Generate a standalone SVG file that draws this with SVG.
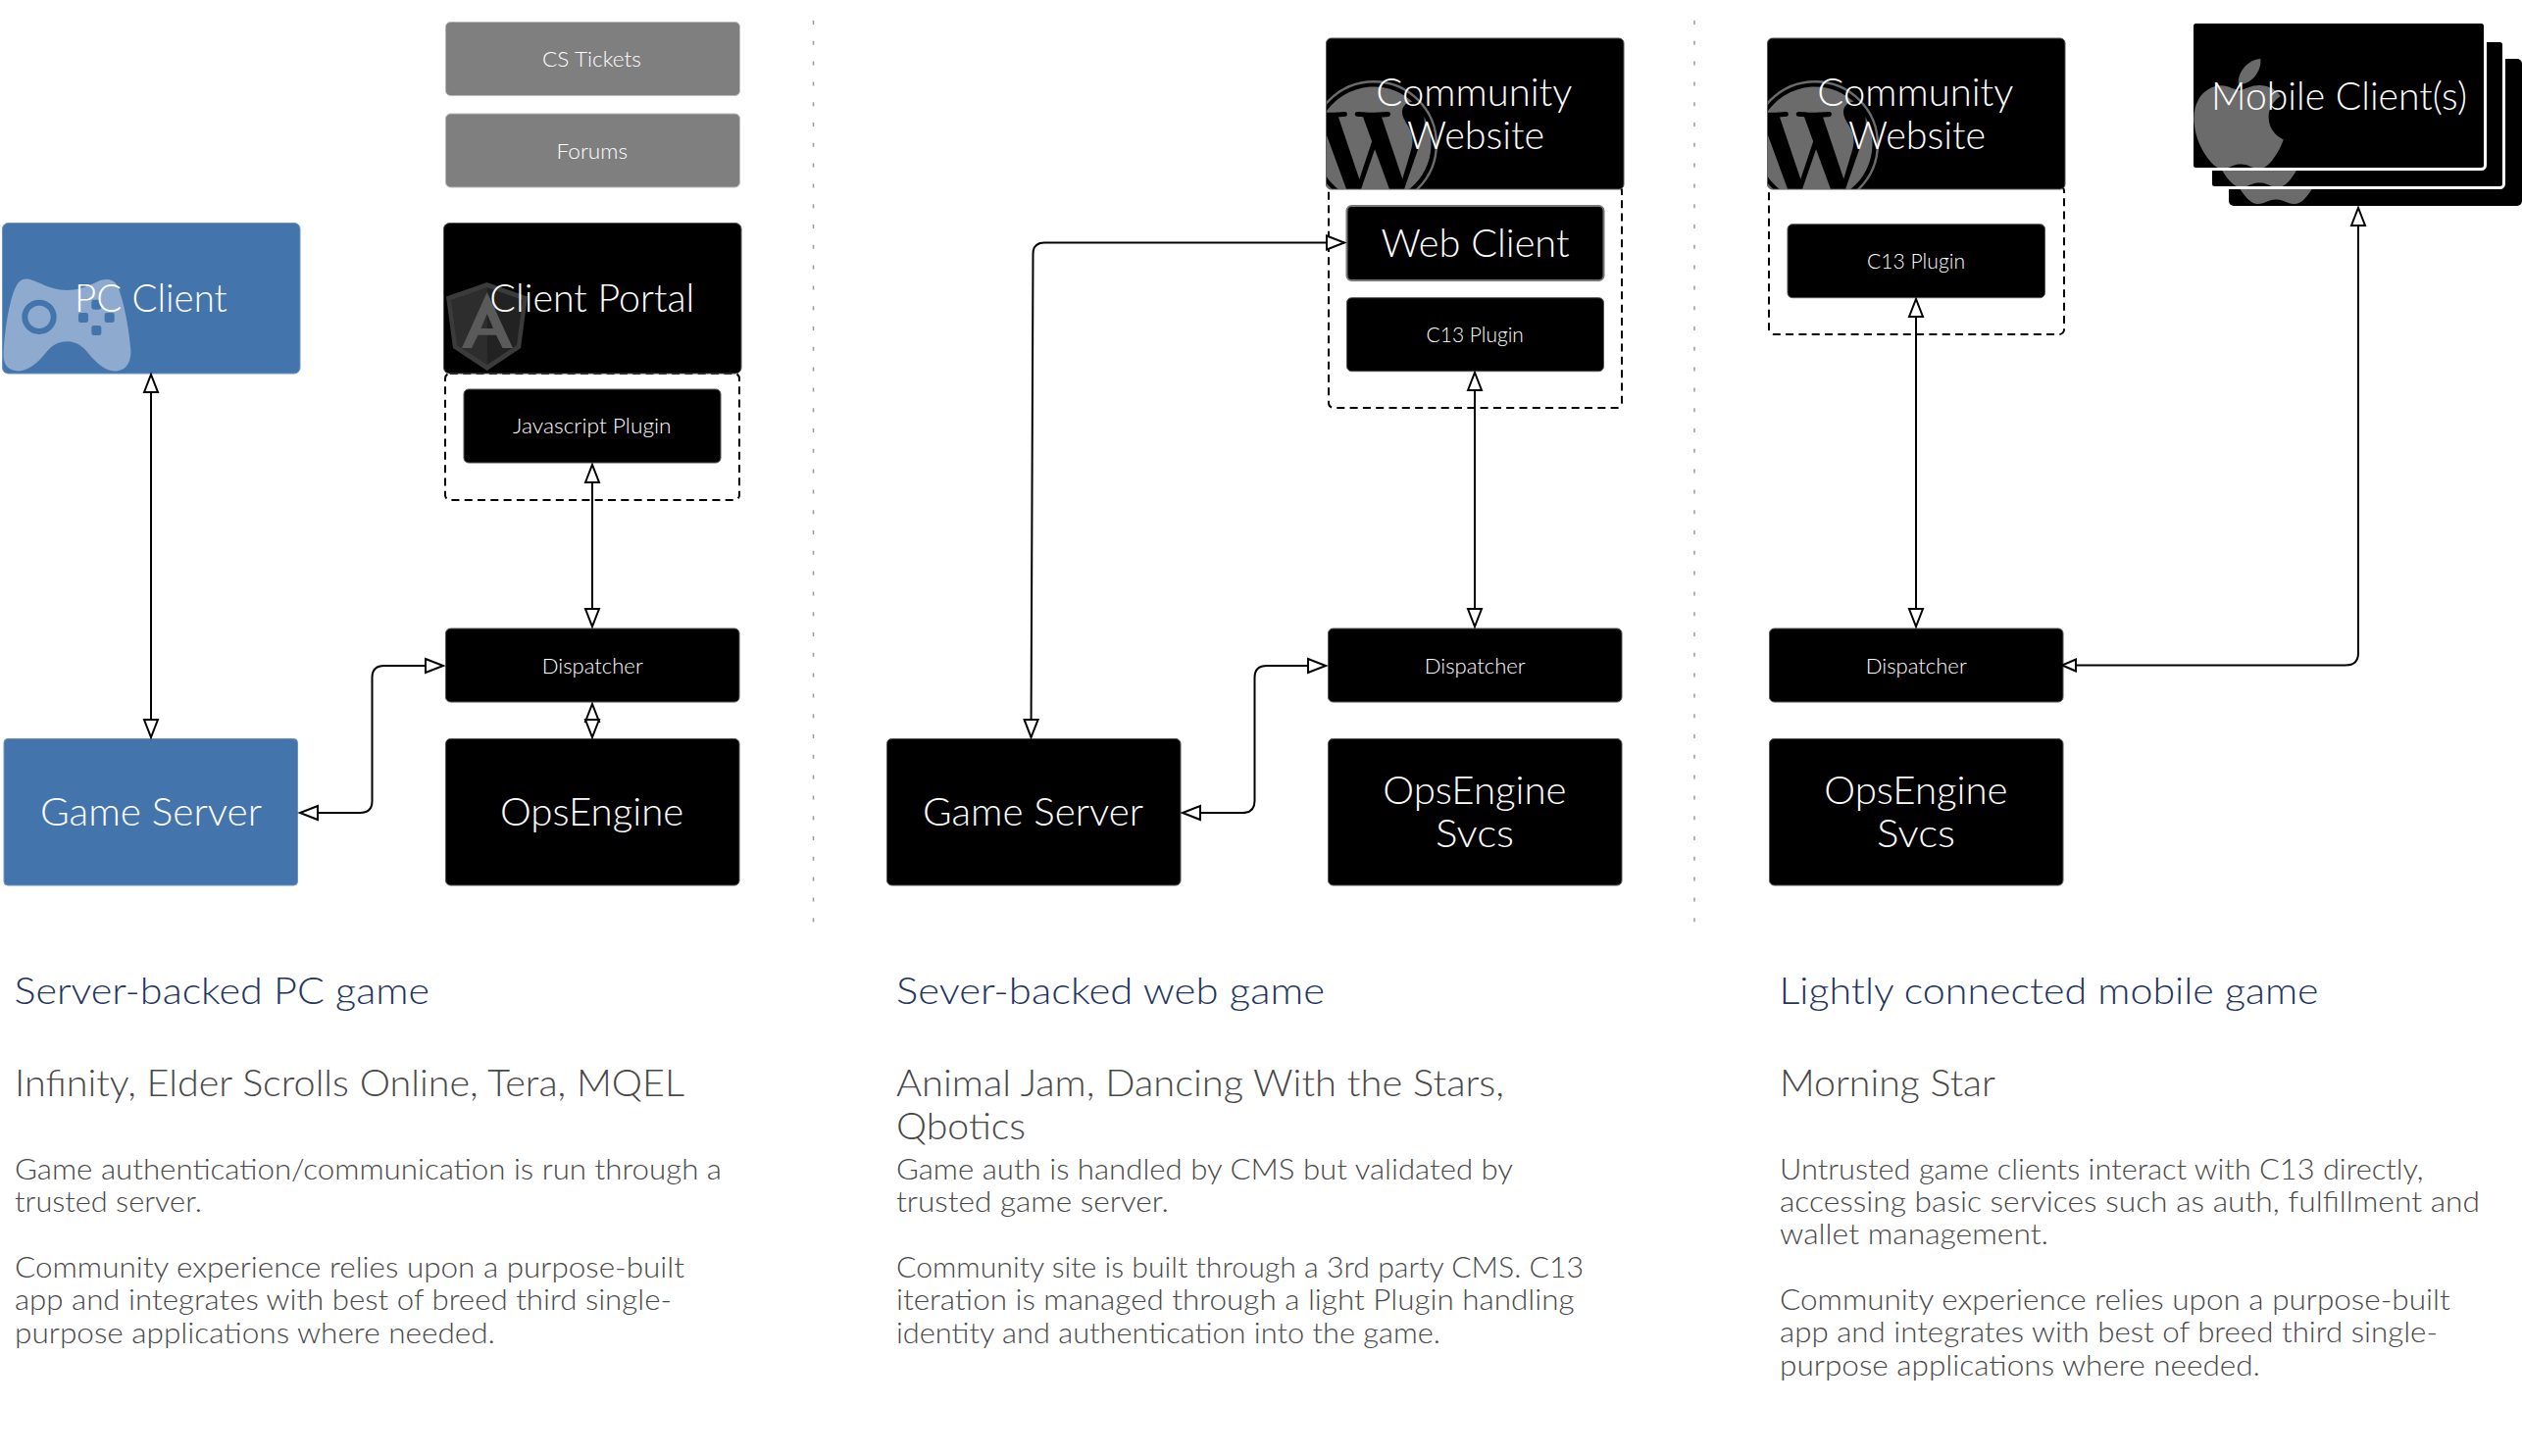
<svg xmlns="http://www.w3.org/2000/svg" width="2572" height="1485" viewBox="0 0 2572 1485">
<style>
text{font-family:"Lato","Liberation Sans",sans-serif;font-weight:300}
.blk{fill:#000;stroke:#555;stroke-width:1}
.blu{fill:#4474ac;stroke:#6c93c2;stroke-width:1}
.gry{fill:#7f7f7f;stroke:#bbb;stroke-width:1}
.dash{fill:none;stroke:#000;stroke-width:2;stroke-dasharray:8 5.3}
.sep{stroke:#999;stroke-width:1.5;stroke-dasharray:4 16.8;fill:none}
.con{fill:none;stroke:#000;stroke-width:2;marker-start:url(#head);marker-end:url(#head)}
.b{fill:#fff;font-size:39.5px}
.s{fill:#fff;font-size:21px}
.t{fill:#1f3560;font-size:37px}
.h{fill:#484848;font-size:37px}
.p{fill:#484848;font-size:29px}
.mark{fill:#6b6b6b}
</style>
<defs>
<marker id="head" markerUnits="userSpaceOnUse" markerWidth="22" markerHeight="18" refX="19" refY="8" orient="auto-start-reverse" viewBox="0 0 22 16"><path d="M1 1L19 8L1 15Z" fill="#fff" stroke="#000" stroke-width="2"/></marker>
<marker id="headS" markerUnits="userSpaceOnUse" markerWidth="18" markerHeight="16" refX="15" refY="7" orient="auto-start-reverse" viewBox="0 0 18 14"><path d="M1 1L15 7L1 13Z" fill="#fff" stroke="#000" stroke-width="2"/></marker>
<path id="wp" d="M21.469 6.825c.84 1.537 1.318 3.3 1.318 5.175 0 3.979-2.156 7.456-5.363 9.325l3.295-9.527c.615-1.54.82-2.771.82-3.864 0-.405-.026-.78-.07-1.11m-7.981.105c.647-.03 1.232-.105 1.232-.105.582-.075.514-.93-.067-.899 0 0-1.755.135-2.88.135-1.064 0-2.85-.15-2.85-.15-.585-.03-.661.855-.075.885 0 0 .54.061 1.125.09l1.68 4.605-2.37 7.08L5.354 6.9c.649-.03 1.234-.1 1.234-.1.585-.075.516-.93-.065-.896 0 0-1.746.138-2.874.138-.2 0-.438-.008-.69-.015C4.911 3.15 8.235 1.215 12 1.215c2.809 0 5.365 1.072 7.286 2.833-.046-.003-.091-.009-.141-.009-1.06 0-1.812.923-1.812 1.914 0 .89.513 1.643 1.06 2.531.411.72.89 1.643.89 2.977 0 .915-.354 1.994-.821 3.479l-1.075 3.585-3.9-11.61.001.014zM12 22.784c-1.059 0-2.081-.153-3.048-.437l3.237-9.406 3.315 9.087c.024.053.05.101.078.149-1.12.393-2.325.609-3.582.609M1.211 12c0-1.564.336-3.05.935-4.39L7.29 21.709C3.694 19.96 1.212 16.271 1.211 12"/>
<path id="apple" d="M12.152 6.896c-.948 0-2.415-1.078-3.96-1.04-2.04.027-3.91 1.183-4.961 3.014-2.117 3.675-.546 9.103 1.519 12.09 1.013 1.454 2.208 3.09 3.792 3.039 1.52-.065 2.09-.987 3.935-.987 1.831 0 2.35.987 3.96.948 1.637-.026 2.676-1.48 3.676-2.948 1.156-1.688 1.636-3.325 1.662-3.415-.039-.013-3.182-1.221-3.22-4.857-.026-3.04 2.48-4.494 2.597-4.559-1.429-2.09-3.623-2.324-4.39-2.376-2-.156-3.675 1.09-4.61 1.09zM15.53 3.83c.843-1.012 1.4-2.427 1.245-3.83-1.207.052-2.662.805-3.532 1.818-.78.896-1.454 2.338-1.273 3.714 1.338.104 2.715-.688 3.559-1.701"/>
<clipPath id="cw2"><rect x="1352.5" y="39" width="303.5" height="154" rx="5"/></clipPath>
<clipPath id="cw3"><rect x="1802.5" y="39" width="303.5" height="154" rx="5"/></clipPath>
<clipPath id="m1"><rect x="2237" y="24" width="296" height="147" rx="3"/></clipPath>
<clipPath id="m2"><rect x="2256" y="43" width="296" height="147" rx="3"/></clipPath>
<clipPath id="m3"><rect x="2273" y="60" width="299" height="150" rx="5"/></clipPath>
</defs>
<rect width="2572" height="1485" fill="#fff"/>
<g id="separators">
<path class="sep" d="M829.5 21V941"/>
<path class="sep" d="M1728 21V941"/>
</g>

<g id="cs-tickets"><rect class="gry" x="454.5" y="22.5" width="300" height="75" rx="5"/><text class="s" x="553" y="67.5" textLength="101" lengthAdjust="spacingAndGlyphs">CS Tickets</text></g>
<g id="forums"><rect class="gry" x="454.5" y="116" width="300" height="75" rx="5"/><text class="s" x="567.5" y="161.5" textLength="72.5" lengthAdjust="spacingAndGlyphs">Forums</text></g>

<g id="pc-client"><rect class="blu" x="2.5" y="227.5" width="303.5" height="153.5" rx="6"/>
<g transform="translate(0 220) scale(.33333)"><path fill="#8eaacf" d="M70 195C85 190 100 197 125 208C150 220 175 228 205 228C240 228 270 215 300 201C320 192 345 192 358 212C375 245 395 340 400 410C402 450 385 478 345 475C315 472 285 440 265 415C245 392 225 385 205 385C180 385 160 395 140 420C115 450 85 478 50 475C20 472 8 450 11 415C15 340 30 260 45 225C52 208 60 198 70 195Z"/>
<circle cx="120" cy="310" r="44" fill="none" stroke="#4474ac" stroke-width="18"/>
<g fill="#4474ac"><rect x="280" y="257" width="30" height="30" rx="7"/><rect x="240" y="297" width="30" height="30" rx="7"/><rect x="320" y="297" width="30" height="30" rx="7"/><rect x="280" y="336" width="30" height="30" rx="7"/></g></g>
<text class="b" x="76" y="317.7" textLength="155.7" lengthAdjust="spacingAndGlyphs">PC Client</text></g>

<g id="javascript-group"><rect class="dash" x="454" y="381" width="300" height="129" rx="5"/></g>
<g id="client-portal"><rect class="blk" x="452.5" y="227.5" width="303.5" height="153.5" rx="6"/>
<path fill="#3b3b3b" d="M496.7 288L538 302.5L531 355L496.7 378L462 355L455 302.5Z"/>
<path fill="#2d2d2d" d="M496.7 293L460 306L466 352L496.7 372Z"/><path fill="#222" d="M496.7 293L533 306L527 352L496.7 372Z"/>
<path fill="#5a5a5a" fill-rule="evenodd" d="M496.7 298L471 355H481L487.5 341.7H506L512.5 355H523ZM490.5 335L496.7 320L503 335Z"/>
<text class="b" x="499.3" y="317.7" textLength="209" lengthAdjust="spacingAndGlyphs">Client Portal</text></g>
<g id="javascript-plugin"><rect class="blk" x="473" y="397" width="262" height="75" rx="5"/><text class="s" x="523" y="442.2" textLength="161.6" lengthAdjust="spacingAndGlyphs">Javascript Plugin</text></g>
<g id="game-server-1"><rect class="blu" x="4" y="753.5" width="299.5" height="149.5" rx="4"/><text class="b" x="41" y="841.7" textLength="226" lengthAdjust="spacingAndGlyphs">Game Server</text></g>
<g id="dispatcher-1"><rect class="blk" x="454.5" y="641" width="299.5" height="75" rx="5"/><text class="s" x="552.7" y="686.7" textLength="103" lengthAdjust="spacingAndGlyphs">Dispatcher</text></g>
<g id="opsengine-1"><rect class="blk" x="454.5" y="753.5" width="299.5" height="149.5" rx="5"/><text class="b" x="510" y="841.7" textLength="187.3" lengthAdjust="spacingAndGlyphs">OpsEngine</text></g>

<g id="web-group"><rect class="dash" x="1355" y="190" width="299" height="226" rx="5"/></g>
<g id="community-website-2"><rect class="blk" x="1352.5" y="39" width="303.5" height="154" rx="5"/>
<g clip-path="url(#cw2)"><g transform="translate(1336 82) scale(5.42)"><use href="#wp" class="mark"/><circle cx="12" cy="12" r="11.78" fill="none" stroke="#6b6b6b" stroke-width=".44"/></g></g>
<text class="b" x="1403.3" y="108.3" textLength="200" lengthAdjust="spacingAndGlyphs">Community</text><text class="b" x="1435" y="151.7" textLength="140" lengthAdjust="spacingAndGlyphs">Website</text></g>
<g id="web-client"><rect fill="#000" stroke="#777" stroke-width="2" x="1373.5" y="210" width="262" height="76" rx="5"/><text class="b" x="1408.5" y="261.7" textLength="192" lengthAdjust="spacingAndGlyphs">Web Client</text></g>
<g id="c13-plugin-2"><rect class="blk" x="1373.5" y="303.7" width="262" height="75" rx="5"/><text class="s" x="1454.6" y="348.5" textLength="99.3" lengthAdjust="spacingAndGlyphs">C13 Plugin</text></g>
<g id="game-server-2"><rect class="blk" x="904.5" y="753.5" width="299.5" height="149.5" rx="5"/><text class="b" x="941" y="841.7" textLength="225" lengthAdjust="spacingAndGlyphs">Game Server</text></g>
<g id="dispatcher-2"><rect class="blk" x="1354.5" y="641" width="299.5" height="75" rx="5"/><text class="s" x="1452.7" y="686.7" textLength="103" lengthAdjust="spacingAndGlyphs">Dispatcher</text></g>
<g id="opsengine-svcs-2"><rect class="blk" x="1354.5" y="753.5" width="299.5" height="149.5" rx="5"/><text class="b" x="1410.3" y="820" textLength="187.3" lengthAdjust="spacingAndGlyphs">OpsEngine</text><text class="b" x="1464" y="864.3" textLength="80" lengthAdjust="spacingAndGlyphs">Svcs</text></g>

<g id="plugin-group"><rect class="dash" x="1804" y="190" width="301" height="151" rx="5"/></g>
<g id="community-website-3"><rect class="blk" x="1802.5" y="39" width="303.5" height="154" rx="5"/>
<g clip-path="url(#cw3)"><g transform="translate(1786 82) scale(5.42)"><use href="#wp" class="mark"/><circle cx="12" cy="12" r="11.78" fill="none" stroke="#6b6b6b" stroke-width=".44"/></g></g>
<text class="b" x="1853.3" y="108.3" textLength="200" lengthAdjust="spacingAndGlyphs">Community</text><text class="b" x="1885" y="151.7" textLength="140" lengthAdjust="spacingAndGlyphs">Website</text></g>
<g id="c13-plugin-3"><rect class="blk" x="1823" y="228.7" width="262.5" height="75" rx="5"/><text class="s" x="1904" y="273.5" textLength="100" lengthAdjust="spacingAndGlyphs">C13 Plugin</text></g>
<g id="dispatcher-3"><rect class="blk" x="1804.5" y="641" width="299.5" height="75" rx="5"/><text class="s" x="1902.7" y="686.7" textLength="103" lengthAdjust="spacingAndGlyphs">Dispatcher</text></g>
<g id="opsengine-svcs-3"><rect class="blk" x="1804.5" y="753.5" width="299.5" height="149.5" rx="5"/><text class="b" x="1860.3" y="820" textLength="187.3" lengthAdjust="spacingAndGlyphs">OpsEngine</text><text class="b" x="1914" y="864.3" textLength="80" lengthAdjust="spacingAndGlyphs">Svcs</text></g>

<g id="mobile-clients">
<rect fill="#000" x="2273" y="60" width="299" height="150" rx="5"/>
<g clip-path="url(#m3)"><use href="#apple" class="mark" transform="translate(2263 96) scale(4.67)"/></g>
<rect fill="#000" stroke="#fff" stroke-width="3" x="2254.5" y="41.5" width="299" height="150" rx="4"/>
<g clip-path="url(#m2)"><use href="#apple" class="mark" transform="translate(2246 79) scale(4.67)"/></g>
<rect fill="#000" stroke="#fff" stroke-width="3" x="2235.5" y="22.5" width="299" height="150" rx="4"/>
<g clip-path="url(#m1)"><use href="#apple" class="mark" transform="translate(2227 60) scale(4.67)"/></g>
<text class="b" x="2255" y="111.7" textLength="261" lengthAdjust="spacingAndGlyphs">Mobile Client(s)</text></g>

<g id="connectors">
<path class="con" d="M154 382V752"/>
<path class="con" d="M604 474V639"/>
<path class="con" d="M604 718V752"/>
<path class="con" d="M306 829H367Q379.5 829 379.5 817V691Q379.5 679 392 679H452"/>
<path class="con" d="M1504 380V639"/>
<path class="con" d="M1051.5 752L1053.5 259Q1053.5 247.5 1065 247.5H1371"/>
<path class="con" d="M1206 829H1267Q1279.5 829 1279.5 817V691Q1279.5 679 1292 679H1352"/>
<path class="con" d="M1954 305V639"/>
<path style="marker-start:url(#head);marker-end:url(#headS)" fill="none" stroke="#000" stroke-width="2" d="M2405 212V666Q2405 678.5 2392 678.5H2103"/>
</g>

<g id="column-1-text">
<text class="t" x="14.5" y="1024" textLength="423.5" lengthAdjust="spacingAndGlyphs">Server-backed PC game</text>
<text class="h" x="15" y="1118" textLength="683" lengthAdjust="spacingAndGlyphs">Infinity, Elder Scrolls Online, Tera, MQEL</text>
<text class="p" x="15" y="1202.7" textLength="721" lengthAdjust="spacingAndGlyphs">Game authentication/communication is run through a</text>
<text class="p" x="15" y="1236.2" textLength="191" lengthAdjust="spacingAndGlyphs">trusted server.</text>
<text class="p" x="15" y="1302.7" textLength="683" lengthAdjust="spacingAndGlyphs">Community experience relies upon a purpose-built</text>
<text class="p" x="15" y="1336.2" textLength="670" lengthAdjust="spacingAndGlyphs">app and integrates with best of breed third single-</text>
<text class="p" x="15" y="1369.5" textLength="490" lengthAdjust="spacingAndGlyphs">purpose applications where needed.</text>
</g>
<g id="column-2-text">
<text class="t" x="914" y="1024" textLength="437" lengthAdjust="spacingAndGlyphs">Sever-backed web game</text>
<text class="h" x="914" y="1118" textLength="620" lengthAdjust="spacingAndGlyphs">Animal Jam, Dancing With the Stars,</text>
<text class="h" x="914" y="1161.5" textLength="132" lengthAdjust="spacingAndGlyphs">Qbotics</text>
<text class="p" x="914" y="1202.7" textLength="629" lengthAdjust="spacingAndGlyphs">Game auth is handled by CMS but validated by</text>
<text class="p" x="914" y="1236.2" textLength="278" lengthAdjust="spacingAndGlyphs">trusted game server.</text>
<text class="p" x="914" y="1302.7" textLength="701" lengthAdjust="spacingAndGlyphs">Community site is built through a 3rd party CMS. C13</text>
<text class="p" x="914" y="1336.2" textLength="691.5" lengthAdjust="spacingAndGlyphs">iteration is managed through a light Plugin handling</text>
<text class="p" x="914" y="1369.5" textLength="555" lengthAdjust="spacingAndGlyphs">identity and authentication into the game.</text>
</g>
<g id="column-3-text">
<text class="t" x="1814.5" y="1024" textLength="550" lengthAdjust="spacingAndGlyphs">Lightly connected mobile game</text>
<text class="h" x="1815" y="1118" textLength="220" lengthAdjust="spacingAndGlyphs">Morning Star</text>
<text class="p" x="1815" y="1202.7" textLength="656.6" lengthAdjust="spacingAndGlyphs">Untrusted game clients interact with C13 directly,</text>
<text class="p" x="1815" y="1236.2" textLength="714" lengthAdjust="spacingAndGlyphs">accessing basic services such as auth, fulfillment and</text>
<text class="p" x="1815" y="1269.2" textLength="274" lengthAdjust="spacingAndGlyphs">wallet management.</text>
<text class="p" x="1815" y="1335.7" textLength="683.7" lengthAdjust="spacingAndGlyphs">Community experience relies upon a purpose-built</text>
<text class="p" x="1815" y="1369" textLength="671" lengthAdjust="spacingAndGlyphs">app and integrates with best of breed third single-</text>
<text class="p" x="1815" y="1402.5" textLength="490" lengthAdjust="spacingAndGlyphs">purpose applications where needed.</text>
</g>
</svg>
